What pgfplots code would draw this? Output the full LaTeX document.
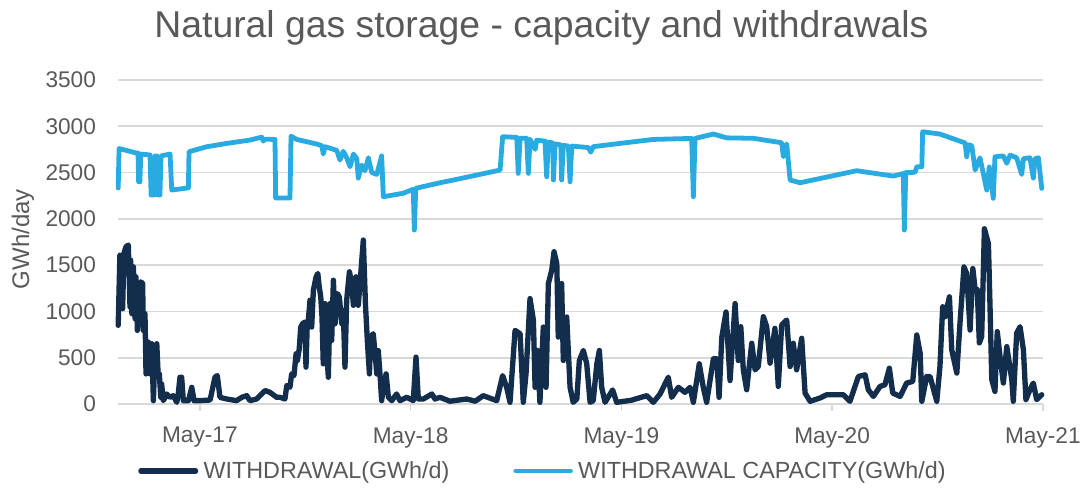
\documentclass[border=0pt]{standalone}
\usepackage{pgfplots}
\pgfplotsset{compat=1.18}
\usepackage{fontspec}
\setmainfont{Liberation Sans}
\definecolor{darkser}{RGB}{19,45,76}
\definecolor{lightser}{RGB}{41,170,225}
\definecolor{txtgray}{RGB}{89,89,89}
\definecolor{gridgray}{RGB}{217,217,217}
\begin{document}
\begin{tikzpicture}
\useasboundingbox (-88.5pt,-70.5pt) rectangle (722.25pt,303pt);
\begin{axis}[
  at={(0pt,0pt)}, anchor=south west,
  scale only axis,
  width=693.75pt, height=243pt,
  xmin=2016.945, xmax=2021.334,
  ymin=0, ymax=3500,
  ytick={0,500,...,3500},
  xtick={2017.3333,2018.3333,2019.3333,2020.3333,2021.3333},
  xticklabels={May-17,May-18,May-19,May-20,May-21},
  xtick pos=lower,
  /pgf/number format/1000 sep={},
  /pgf/number format/assume math mode=true,
  axis line style={draw=none},
  ymajorgrids,
  grid style={gridgray, line width=1.2pt},
  tick align=outside,
  major tick length=5pt,
  xtick style={draw=gridgray, line width=1.2pt},
  ytick style={draw=none},
  tick label style={font=\fontsize{17pt}{20pt}\selectfont, text=txtgray},
  yticklabel style={xshift=-8pt},
  xticklabel style={yshift=-9pt},
  clip=false,
  title={Natural gas storage - capacity and withdrawals},
  title style={font=\fontsize{28pt}{32pt}\selectfont, text=txtgray, at={(axis description cs:0.4578,1.135)}, anchor=center},
  ylabel={GWh/day},
  every axis y label/.style={at={(axis description cs:-0.1027,0.509)}, rotate=90, anchor=center, font=\fontsize{18pt}{21pt}\selectfont, text=txtgray},
  legend columns=2,
  legend style={at={(axis description cs:0.0216,-0.2068)}, anchor=west, draw=none, fill=none, inner sep=0pt,
    font=\fontsize{17.5pt}{20pt}\selectfont, text=txtgray,
    /tikz/every even column/.append style={column sep=46pt},
    /tikz/every odd column/.append style={column sep=2pt}},
  legend image code/.code={\draw[#1] (0pt,0pt) -- (41pt,0pt);},
  legend cell align=left,
]
\addplot[darkser, line width=4pt, line join=round, line cap=round] table {
2016.946 850
2016.954 1609
2016.963 1590
2016.967 1030
2016.973 1627
2016.983 1699
2016.994 1717
2017.002 1048
2017.005 1554
2017.011 976
2017.018 1482
2017.026 922
2017.030 1374
2017.037 795
2017.046 1157
2017.053 1320
2017.062 1301
2017.065 795
2017.073 976
2017.078 325
2017.089 669
2017.097 325
2017.105 651
2017.113 36
2017.117 325
2017.129 651
2017.136 289
2017.141 325
2017.148 72
2017.152 217
2017.160 36
2017.176 108
2017.192 72
2017.207 90
2017.224 18
2017.231 108
2017.239 289
2017.247 289
2017.255 36
2017.279 36
2017.295 180
2017.306 36
2017.334 36
2017.382 43
2017.405 289
2017.416 307
2017.429 72
2017.461 54
2017.508 36
2017.532 72
2017.556 90
2017.571 36
2017.603 54
2017.643 145
2017.666 126
2017.698 72
2017.714 72
2017.737 54
2017.746 199
2017.761 181
2017.769 325
2017.780 307
2017.790 542
2017.796 470
2017.805 596
2017.812 831
2017.821 868
2017.832 886
2017.837 398
2017.843 868
2017.848 904
2017.856 1121
2017.864 831
2017.872 1229
2017.885 1374
2017.893 1410
2017.900 1265
2017.907 1157
2017.913 940
2017.919 434
2017.927 1085
2017.935 578
2017.943 289
2017.951 1085
2017.959 687
2017.967 1337
2017.975 868
2017.986 1193
2017.995 1157
2018.007 868
2018.014 1012
2018.022 398
2018.030 1121
2018.043 1428
2018.054 1301
2018.062 1066
2018.074 1374
2018.085 1066
2018.097 1410
2018.109 1771
2018.119 1085
2018.128 687
2018.138 325
2018.144 723
2018.156 759
2018.165 542
2018.173 325
2018.180 578
2018.188 325
2018.196 36
2018.204 181
2018.217 325
2018.228 72
2018.244 36
2018.267 108
2018.283 36
2018.315 72
2018.331 54
2018.346 36
2018.359 506
2018.370 54
2018.394 54
2018.434 108
2018.449 54
2018.473 72
2018.520 30
2018.600 54
2018.640 30
2018.678 90
2018.742 36
2018.770 307
2018.789 180
2018.805 18
2018.829 795
2018.853 759
2018.868 18
2018.881 325
2018.900 1139
2018.916 904
2018.924 180
2018.935 578
2018.947 18
2018.963 831
2018.976 180
2018.987 1301
2019.003 1446
2019.014 1645
2019.027 1518
2019.034 723
2019.050 1301
2019.058 470
2019.074 940
2019.090 180
2019.105 18
2019.122 54
2019.134 470
2019.153 578
2019.169 434
2019.185 18
2019.200 36
2019.217 434
2019.229 578
2019.240 180
2019.256 18
2019.292 152
2019.311 18
2019.380 40
2019.454 90
2019.485 18
2019.517 108
2019.556 289
2019.572 72
2019.604 180
2019.635 126
2019.659 180
2019.675 18
2019.703 434
2019.722 180
2019.738 18
2019.770 488
2019.786 488
2019.797 72
2019.810 723
2019.830 994
2019.849 253
2019.873 1085
2019.888 470
2019.900 835
2019.912 369
2019.928 154
2019.952 656
2019.968 369
2019.983 405
2020.007 943
2020.023 835
2020.039 441
2020.062 817
2020.078 190
2020.094 853
2020.118 907
2020.134 405
2020.149 656
2020.165 369
2020.189 710
2020.205 118
2020.229 29
2020.276 65
2020.308 100
2020.355 100
2020.387 100
2020.418 29
2020.458 297
2020.490 315
2020.505 154
2020.529 82
2020.561 190
2020.584 208
2020.605 387
2020.621 118
2020.656 82
2020.687 226
2020.716 244
2020.735 746
2020.751 549
2020.759 29
2020.782 297
2020.798 297
2020.830 29
2020.845 405
2020.858 1050
2020.869 944
2020.890 1158
2020.901 584
2020.925 334
2020.940 871
2020.959 1481
2020.972 1409
2020.988 799
2021.001 1463
2021.012 1237
2021.022 1237
2021.032 660
2021.043 728
2021.056 1893
2021.075 1732
2021.083 1017
2021.091 262
2021.106 136
2021.117 782
2021.130 513
2021.146 226
2021.162 620
2021.186 262
2021.193 29
2021.209 764
2021.225 835
2021.241 584
2021.253 47
2021.272 154
2021.288 226
2021.304 47
2021.328 100
};
\addlegendentry{WITHDRAWAL(GWh/d)}
\addplot[lightser, line width=3.6pt, line join=round, line cap=round] table {
2016.946 2333
2016.950 2760
2017.034 2710
2017.040 2710
2017.043 2400
2017.049 2400
2017.053 2700
2017.097 2690
2017.102 2257
2017.116 2257
2017.121 2680
2017.130 2680
2017.135 2257
2017.144 2257
2017.149 2680
2017.192 2700
2017.200 2311
2017.279 2335
2017.282 2725
2017.366 2779
2017.461 2815
2017.571 2851
2017.627 2883
2017.634 2840
2017.643 2860
2017.690 2858
2017.693 2225
2017.761 2225
2017.766 2894
2017.793 2858
2017.888 2808
2017.912 2790
2017.919 2700
2017.927 2780
2017.983 2740
2017.998 2635
2018.014 2730
2018.030 2660
2018.046 2563
2018.062 2700
2018.078 2650
2018.085 2440
2018.101 2580
2018.117 2520
2018.133 2660
2018.149 2500
2018.173 2480
2018.196 2680
2018.204 2239
2018.299 2277
2018.346 2320
2018.351 1879
2018.358 2330
2018.473 2390
2018.536 2419
2018.758 2527
2018.770 2887
2018.837 2880
2018.844 2491
2018.853 2870
2018.884 2870
2018.892 2491
2018.900 2860
2018.924 2750
2018.932 2850
2018.971 2840
2018.979 2455
2018.987 2830
2019.008 2820
2019.011 2419
2019.019 2810
2019.046 2800
2019.050 2419
2019.058 2795
2019.082 2786
2019.090 2401
2019.098 2786
2019.177 2770
2019.188 2720
2019.200 2780
2019.327 2815
2019.485 2858
2019.667 2869
2019.675 2239
2019.683 2869
2019.770 2916
2019.833 2875
2019.960 2870
2020.094 2822
2020.102 2671
2020.118 2810
2020.134 2419
2020.181 2390
2020.450 2520
2020.624 2462
2020.671 2490
2020.676 1879
2020.683 2500
2020.727 2503
2020.735 2563
2020.759 2563
2020.763 2941
2020.845 2916
2020.964 2820
2020.972 2671
2020.980 2800
2020.996 2790
2021.012 2527
2021.035 2660
2021.067 2311
2021.079 2560
2021.098 2221
2021.106 2670
2021.146 2680
2021.162 2600
2021.178 2689
2021.209 2660
2021.233 2480
2021.241 2650
2021.272 2660
2021.288 2440
2021.296 2650
2021.312 2660
2021.328 2329
};
\addlegendentry{WITHDRAWAL CAPACITY(GWh/d)}
\end{axis}
\end{tikzpicture}
\end{document}
